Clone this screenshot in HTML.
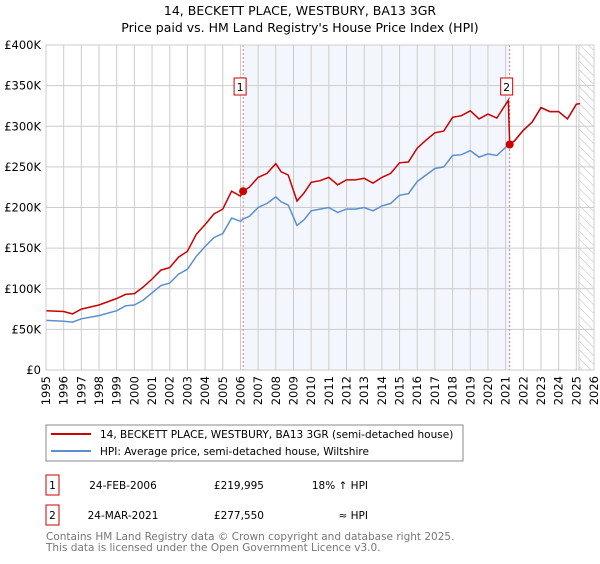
<!DOCTYPE html>
<html><head><meta charset="utf-8"><style>
body{margin:0;background:#fff;font-family:"DejaVu Sans","Liberation Sans",sans-serif;}
svg text{font-family:"DejaVu Sans","Liberation Sans",sans-serif;}
</style></head><body>
<svg id="chart" width="600" height="560" viewBox="0 0 600 560">
<defs><pattern id="hatch" width="6" height="6" patternUnits="userSpaceOnUse" patternTransform="rotate(-45)"><line x1="0" y1="0" x2="0" y2="6" stroke="#bbb" stroke-width="1"/></pattern></defs>
<text x="300" y="15" text-anchor="middle" font-size="12.5" fill="#000">14, BECKETT PLACE, WESTBURY, BA13 3GR</text>
<text x="300" y="32" text-anchor="middle" font-size="12.5" fill="#000">Price paid vs. HM Land Registry's House Price Index (HPI)</text>
<g id="grid"></g><g id="series"></g><g id="axes"></g>
<rect x="46" y="425" width="417" height="36" fill="#fff" stroke="#888"/>
<line x1="51" y1="434" x2="91" y2="434" stroke="#cc0000" stroke-width="2"/>
<text x="100" y="438" font-size="10.5">14, BECKETT PLACE, WESTBURY, BA13 3GR (semi-detached house)</text>
<line x1="51" y1="451" x2="91" y2="451" stroke="#5b8fd0" stroke-width="2"/>
<text x="100" y="455" font-size="10.5">HPI: Average price, semi-detached house, Wiltshire</text>
<rect x="46" y="475" width="13" height="20" fill="#fff" stroke="#cc0000"/>
<text x="52.5" y="489" font-size="10.5" text-anchor="middle">1</text>
<text x="123" y="489" font-size="10.5" text-anchor="middle">24-FEB-2006</text>
<text x="264" y="489" font-size="10.5" text-anchor="end">£219,995</text>
<text x="368" y="489" font-size="10.5" text-anchor="end">18% ↑ HPI</text>
<rect x="46" y="505" width="13" height="20" fill="#fff" stroke="#cc0000"/>
<text x="52.5" y="519" font-size="10.5" text-anchor="middle">2</text>
<text x="123" y="519" font-size="10.5" text-anchor="middle">24-MAR-2021</text>
<text x="264" y="519" font-size="10.5" text-anchor="end">£277,550</text>
<text x="368" y="519" font-size="10.5" text-anchor="end">≈ HPI</text>
<text x="46" y="540" font-size="10.5" fill="#777">Contains HM Land Registry data © Crown copyright and database right 2025.</text>
<text x="46" y="551" font-size="10.5" fill="#777">This data is licensed under the Open Government Licence v3.0.</text>
</svg>
<script>
const hpiYears=[1995,1996,1996.5,1997,1998,1999,1999.5,2000,2000.5,2001,2001.5,2002,2002.5,2003,2003.5,2004,2004.5,2005,2005.5,2006,2006.15,2006.5,2007,2007.5,2008,2008.3,2008.7,2009.2,2009.6,2010,2010.5,2011,2011.5,2012,2012.5,2013,2013.5,2014,2014.5,2015,2015.5,2016,2016.5,2017,2017.5,2018,2018.5,2019,2019.5,2020,2020.5,2021.2,2021.5,2022,2022.5,2023,2023.5,2024,2024.5,2025,2025.2];
const hpiValues=[61,60,59,63,67,73,79,80,86,95,104,107,118,124,140,152,163,168,187,183,186,189,200,205,213,207,203,178,185,196,198,200,194,198,198,200,196,202,205,215,217,232,240,248,250,264,265,270,262,266,264,278,282,295,305,323,318,318,309,327,328];
const priceYears=[1995,1996,1996.5,1997,1998,1999,1999.5,2000,2000.5,2001,2001.5,2002,2002.5,2003,2003.5,2004,2004.5,2005,2005.5,2006,2006.15,2006.5,2007,2007.5,2008,2008.3,2008.7,2009.2,2009.6,2010,2010.5,2011,2011.5,2012,2012.5,2013,2013.5,2014,2014.5,2015,2015.5,2016,2016.5,2017,2017.5,2018,2018.5,2019,2019.5,2020,2020.5,2021.15,2021.23,2021.5,2022,2022.5,2023,2023.5,2024,2024.5,2025,2025.2];
const priceValues=[73,72,69,75,80,88,93,94,102,112,123,126,139,146,167,179,192,198,220,214,220,225,237,242,254,244,240,208,218,231,233,237,228,234,234,236,230,237,242,255,256,273,283,292,294,311,313,319,309,315,310,332,277.5,282,295,305,323,318,318,309,327,328];
const saleYears=[2006.15,2021.23];
const saleValues=[219.995,277.55];
const saleLabels=["1","2"];
const yTicks=[0,50,100,150,200,250,300,350,400];
const yTickLabels=["£0","£50K","£100K","£150K","£200K","£250K","£300K","£350K","£400K"];
const xTicks=[1995,1996,1997,1998,1999,2000,2001,2002,2003,2004,2005,2006,2007,2008,2009,2010,2011,2012,2013,2014,2015,2016,2017,2018,2019,2020,2021,2022,2023,2024,2025,2026];

const NS="http://www.w3.org/2000/svg";
const X0=46,X1=594,Y0=370,Y1=45;
const xs=y=>X0+(y-1995)/(2026-1995)*(X1-X0);
const ys=v=>Y0-v/400*(Y0-Y1);
function mk(parent,tag,attrs){const e=document.createElementNS(NS,tag);for(const k in attrs)e.setAttribute(k,attrs[k]);parent.appendChild(e);return e;}
const grid=document.getElementById('grid'),ser=document.getElementById('series'),ax=document.getElementById('axes');
let r=mk(grid,'rect',{x:xs(saleYears[0]),y:Y1,width:xs(saleYears[1])-xs(saleYears[0]),height:Y0-Y1,fill:'#eef3fc',opacity:0.7});


r=mk(grid,'rect',{x:xs(2025.15),y:Y1,width:X1-xs(2025.15),height:Y0-Y1,fill:'url(#hatch)',stroke:'#ccc'});


yTicks.forEach((v,i)=>{
 const l=mk(grid,'line',{x1:X0,x2:X1,y1:ys(v),y2:ys(v),stroke:'#ccc'});
 
 
 const t=mk(ax,'text',{x:X0-5,y:ys(v)+4,'text-anchor':'end','font-size':'11.5'});
 t.textContent=yTickLabels[i];
 
 
});
xTicks.forEach(y=>{
 const l=mk(grid,'line',{x1:xs(y),x2:xs(y),y1:Y1,y2:Y0,stroke:'#ccc'});
 
 
 const t=mk(ax,'text',{x:0,y:0,'text-anchor':'end','font-size':'11.5',transform:`translate(${xs(y)+4},${Y0+6}) rotate(-90)`});
 t.textContent=y;
 
 
});
saleYears.forEach((y,i)=>{
 const l=mk(ser,'line',{x1:xs(y),x2:xs(y),y1:Y1,y2:Y0,stroke:'#e06060','stroke-dasharray':'2,2','stroke-width':0.8});
 
 
});
function path(xa,va,color,name){
 const d=xa.map((y,i)=>(i?'L':'M')+xs(y).toFixed(1)+','+ys(va[i]).toFixed(1)).join('');
 const p=mk(ser,'path',{d:d,fill:'none',stroke:color,'stroke-width':1.5});
 
 
}
path(hpiYears,hpiValues,'#5b8fd0','hpi-line');
path(priceYears,priceValues,'#cc0000','price-line');
saleYears.forEach((y,i)=>{
 const c=mk(ser,'circle',{cx:xs(y),cy:ys(saleValues[i]),r:4,fill:'#cc0000'});
 
 
 const b=mk(ser,'rect',{x:xs(y)-9,y:78,width:12,height:17,fill:'#fff',stroke:'#cc0000'});
 
 
 const t=mk(ser,'text',{x:xs(y)-3,y:91,'text-anchor':'middle','font-size':'11'});
 t.textContent=saleLabels[i];
 
 
});
const f=mk(ax,'rect',{x:X0,y:Y1,width:X1-X0,height:Y0-Y1,fill:'none',stroke:'#ccc'});


</script>
</body></html>
